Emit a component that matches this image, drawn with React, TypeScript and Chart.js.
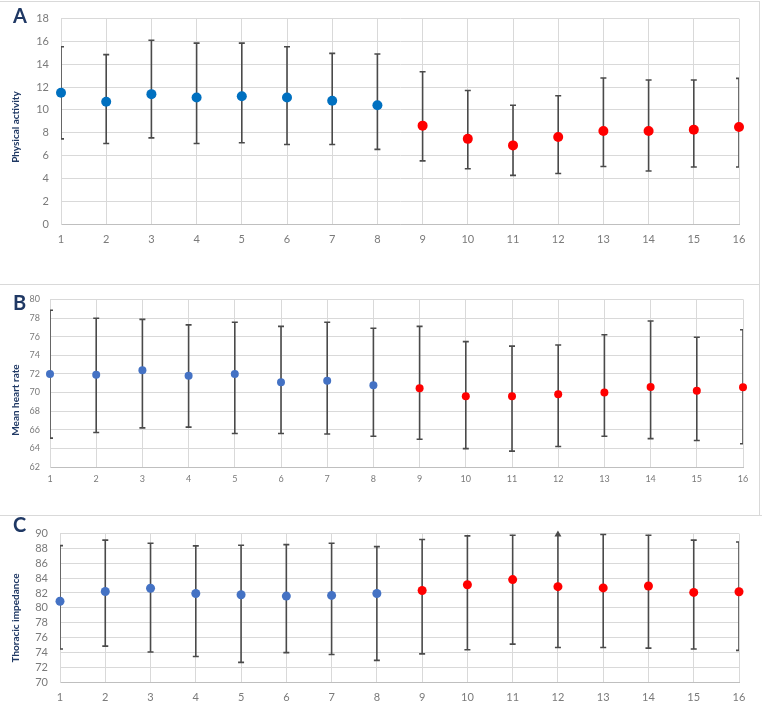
import React, { useEffect, useRef } from "react";
import { Chart, registerables } from "chart.js";

Chart.register(...registerables);

// ---------- data ----------
const categories = [1, 2, 3, 4, 5, 6, 7, 8, 9, 10, 11, 12, 13, 14, 15, 16];
const splitAt = 8; // first 8 time points blue, the rest red

const paValues = [11.5, 10.72, 11.38, 11.09, 11.2, 11.09, 10.8, 10.4, 8.62, 7.46, 6.89, 7.63, 8.15, 8.15, 8.27, 8.5];
const paUpper = [15.53, 14.84, 16.1, 15.85, 15.85, 15.53, 14.95, 14.9, 13.34, 11.7, 10.4, 11.24, 12.79, 12.62, 12.62, 12.76];
const paLower = [7.46, 7.06, 7.55, 7.06, 7.12, 6.97, 6.97, 6.54, 5.53, 4.84, 4.26, 4.43, 5.04, 4.64, 4.99, 4.99];

const hrValues = [72.0, 71.9, 72.4, 71.8, 72.0, 71.1, 71.26, 70.77, 70.45, 69.6, 69.6, 69.8, 70.0, 70.6, 70.18, 70.56];
const hrUpper = [78.84, 77.97, 77.86, 77.26, 77.54, 77.1, 77.54, 76.9, 77.1, 75.47, 74.98, 75.1, 76.2, 77.68, 75.93, 76.74];
const hrLower = [65.1, 65.7, 66.2, 66.28, 65.6, 65.6, 65.55, 65.3, 64.98, 63.97, 63.7, 64.2, 65.3, 65.05, 64.84, 64.5];

const tiValues = [80.89, 82.2, 82.63, 81.93, 81.76, 81.58, 81.67, 81.93, 82.33, 83.1, 83.8, 82.85, 82.68, 82.94, 82.07, 82.16];
const tiUpper = [88.38, 89.12, 88.69, 88.34, 88.43, 88.51, 88.69, 88.25, 89.2, 89.69, 89.78, 91.0, 89.87, 89.78, 89.12, 88.86];
const tiLower = [74.44, 74.83, 74.05, 73.44, 72.65, 73.96, 73.7, 72.91, 73.79, 74.35, 75.1, 74.65, 74.65, 74.57, 74.44, 74.26];

const paTitle = "Physical activity";
const hrTitle = "Mean heart rate";
const tiTitle = "Thoracic impedance";

// ---------- plugins ----------
const errorBarPlugin = {
  id: "errorBars",
  beforeDatasetsDraw(chart: any) {
    const o = chart.options.plugins.errorBars;
    if (!o) return;
    const { ctx, chartArea } = chart;
    const xs = chart.scales.x;
    const ys = chart.scales.y;
    const ymax = ys.max;
    ctx.save();
    ctx.beginPath();
    ctx.rect(chartArea.left, chartArea.top - 1, chartArea.right - chartArea.left, chartArea.bottom - chartArea.top + 2);
    ctx.clip();
    ctx.strokeStyle = o.color;
    ctx.lineWidth = o.width;
    o.lower.forEach((lo: number, i: number) => {
      const hi = o.upper[i];
      const px = xs.getPixelForValue(o.xs[i]);
      const pLo = ys.getPixelForValue(lo);
      const pHi = ys.getPixelForValue(Math.min(hi, ymax));
      ctx.beginPath();
      ctx.moveTo(px, pLo);
      ctx.lineTo(px, pHi);
      ctx.moveTo(px - o.cap, pLo);
      ctx.lineTo(px + o.cap, pLo);
      if (hi <= ymax) {
        ctx.moveTo(px - o.cap, pHi);
        ctx.lineTo(px + o.cap, pHi);
      }
      ctx.stroke();
    });
    ctx.restore();
    // arrow heads for bars beyond the axis maximum
    ctx.save();
    ctx.fillStyle = o.color;
    o.upper.forEach((hi: number, i: number) => {
      if (hi > ymax) {
        const px = xs.getPixelForValue(o.xs[i]);
        const top = chartArea.top;
        ctx.beginPath();
        ctx.moveTo(px, top - 3);
        ctx.lineTo(px - 3.5, top + 3);
        ctx.lineTo(px + 3.5, top + 3);
        ctx.closePath();
        ctx.fill();
      }
    });
    ctx.restore();
  },
};

const panelTextPlugin = {
  id: "panelText",
  afterDraw(chart: any) {
    const o = chart.options.plugins.panelText;
    if (!o) return;
    const { ctx } = chart;
    ctx.save();
    ctx.fillStyle = "#1F3864";
    ctx.font = "bold 20px Lato";
    ctx.textAlign = "left";
    ctx.textBaseline = "alphabetic";
    ctx.fillText(o.letter, o.letterX, o.letterY);
    ctx.translate(o.titleX, o.titleY);
    ctx.rotate(-Math.PI / 2);
    ctx.font = "bold 10px Lato";
    ctx.textAlign = "center";
    ctx.textBaseline = "middle";
    ctx.fillText(o.title, 0, 0);
    ctx.restore();
  },
};

type Panel = {
  values: number[];
  upper: number[];
  lower: number[];
  min: number;
  max: number;
  blue: string;
  radius: number;
  tickSize: number;
  xPad: number;
  yPad: number;
  axisW: number;
  padT: number;
  padB: number;
  padR: number;
  letter: string;
  title: string;
  letterY: number;
  titleY: number;
};

function buildConfig(p: Panel): any {
  const before = p.values.slice(0, splitAt).map((v, i) => ({ x: categories[i], y: v }));
  const after = p.values.slice(splitAt).map((v, i) => ({ x: categories[i + splitAt], y: v }));
  const tickColor = "#7a7a7a";
  return {
    type: "scatter",
    data: {
      datasets: [
        { data: before, backgroundColor: p.blue, borderColor: p.blue, pointRadius: p.radius, pointBorderWidth: 0, clip: false },
        { data: after, backgroundColor: "#FF0000", borderColor: "#FF0000", pointRadius: p.radius, pointBorderWidth: 0, clip: false },
      ],
    },
    options: {
      animation: false,
      responsive: false,
      events: [],
      layout: { padding: { left: 0, right: p.padR, top: p.padT, bottom: p.padB } },
      plugins: {
        legend: { display: false },
        tooltip: { enabled: false },
        errorBars: { xs: categories, upper: p.upper, lower: p.lower, color: "#4a4a4a", width: 1.6, cap: 3 },
        panelText: { letter: p.letter, letterX: 13, letterY: p.letterY, title: p.title, titleX: 15.5, titleY: p.titleY },
      },
      scales: {
        x: {
          type: "linear",
          min: 1,
          max: 16,
          ticks: { stepSize: 1, autoSkip: false, maxRotation: 0, color: tickColor, font: { family: "Lato", size: p.tickSize }, padding: p.xPad },
          grid: { color: "#d9d9d9", drawTicks: false },
          border: { color: "#bfbfbf" },
          afterFit: (s: any) => {
            s.height = 25;
          },
        },
        y: {
          type: "linear",
          min: p.min,
          max: p.max,
          ticks: { stepSize: 2, autoSkip: false, color: tickColor, font: { family: "Lato", size: p.tickSize }, padding: p.yPad },
          grid: { color: "#d9d9d9", drawTicks: false },
          border: { color: "#d9d9d9" },
          afterFit: (s: any) => {
            s.width = p.axisW;
          },
        },
      },
    },
    plugins: [errorBarPlugin, panelTextPlugin],
  };
}

const panelA: Panel = {
  values: paValues, upper: paUpper, lower: paLower, min: 0, max: 18,
  blue: "#0070C0", radius: 5, tickSize: 11, xPad: 9, yPad: 12, axisW: 61,
  padT: 16, padB: 35, padR: 23, letter: "A", title: paTitle, letterY: 23, titleY: 127,
};
const panelB: Panel = {
  values: hrValues, upper: hrUpper, lower: hrLower, min: 62, max: 80,
  blue: "#4472C4", radius: 4, tickSize: 9, xPad: 7, yPad: 10, axisW: 50,
  padT: 12, padB: 23, padR: 19, letter: "B", title: hrTitle, letterY: 26, titleY: 116,
};
const panelC: Panel = {
  values: tiValues, upper: tiUpper, lower: tiLower, min: 70, max: 90,
  blue: "#4472C4", radius: 4.5, tickSize: 11, xPad: 9, yPad: 12, axisW: 60,
  padT: 14, padB: 10, padR: 23, letter: "C", title: tiTitle, letterY: 17, titleY: 103,
};

function PanelChart({ cfg, top, height }: { cfg: Panel; top: number; height: number }) {
  const ref = useRef<HTMLCanvasElement>(null);
  useEffect(() => {
    if (!ref.current) return;
    const chart = new Chart(ref.current, buildConfig(cfg));
    return () => chart.destroy();
  }, [cfg]);
  return (
    <canvas
      ref={ref}
      width={762}
      height={height}
      style={{ position: "absolute", left: 0, top, width: 762, height, display: "block" }}
    />
  );
}

export default function App() {
  const line = "#d9d9d9";
  return (
    <div style={{ position: "absolute", left: 0, top: 0, width: 762, height: 717, background: "#ffffff", overflow: "hidden" }}>
      <PanelChart cfg={panelA} top={0} height={284} />
      <PanelChart cfg={panelB} top={284} height={231} />
      <PanelChart cfg={panelC} top={515} height={202} />
      <div style={{ position: "absolute", left: 0, top: 1, width: 760, height: 1, background: line }} />
      <div style={{ position: "absolute", left: 0, top: 284, width: 760, height: 1, background: line }} />
      <div style={{ position: "absolute", left: 0, top: 515, width: 762, height: 1, background: line }} />
      <div style={{ position: "absolute", left: 759, top: 1, width: 1, height: 515, background: line }} />
    </div>
  );
}
